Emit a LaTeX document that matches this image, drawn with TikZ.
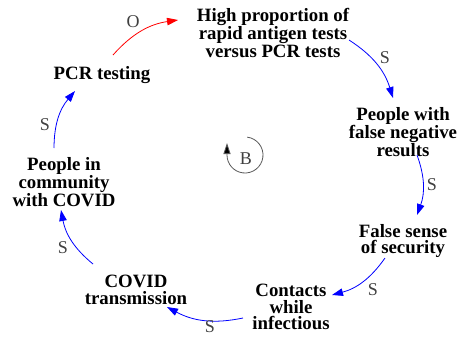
\documentclass[tikz,border=0pt]{standalone}
\usepackage{fontspec}
\setmainfont{Liberation Serif}
\usetikzlibrary{arrows.meta}
\begin{document}
\begin{tikzpicture}[x=1pt,y=-1pt,
  var/.style={font=\bfseries\fontsize{18.8}{16.5}\selectfont, align=center, inner sep=0pt, text=black},
  pol/.style={font=\fontsize{18}{18}\selectfont, text=black!75, inner sep=0pt},
  link/.style={line width=0.8pt, -{Triangle[length=11pt,width=7.5pt]}, bend left=20},
  poslink/.style={link, draw=blue},
  neglink/.style={link, draw=red},
  loopline/.style={line width=0.8pt, draw=black!65, -{Triangle[length=11pt,width=7pt,fill=black]}}
]
\useasboundingbox (0,0) rectangle (461,338);

% variables of the causal loop
\node[var] (hp)  at (273,33)  {High proportion of\\rapid antigen tests\\versus PCR tests};
\node[var] (fn)  at (403,132) {People with\\false negative\\results};
\node[var] (fs)  at (403,241) {False sense\\of security};
\node[var] (cw)  at (291,307) {Contacts\\while\\infectious};
\node[var] (ct)  at (136,290) {COVID\\transmission};
\node[var] (pc)  at (64,182)  {People in\\community\\with COVID};
\node[var] (pcr) at (102,75)  {PCR testing};

% causal links
\draw[neglink] ([shift={(11,-20)}]pcr.center) to ([shift={(-95,-13)}]hp.center);
\draw[poslink] ([shift={(76,7)}]hp.center)    to ([shift={(-10,-34)}]fn.center);
\draw[poslink] ([shift={(14,23)}]fn.center)   to ([shift={(14,-26)}]fs.center);
\draw[poslink] ([shift={(-18,17)}]fs.center)  to ([shift={(41,-12)}]cw.center);
\draw[poslink] ([shift={(-48,11)}]cw.center)  to ([shift={(31,17)}]ct.center);
\draw[poslink] ([shift={(-43,-26)}]ct.center) to ([shift={(-3,28)}]pc.center);
\draw[poslink] ([shift={(-10,-34)}]pc.center) to ([shift={(-27,16)}]pcr.center);

% link polarities
\node[pol] (o1) at (133,22)  {O};
\node[pol] (s1) at (385,58)  {S};
\node[pol] (s2) at (432,185) {S};
\node[pol] (s3) at (373,290) {S};
\node[pol] (s4) at (210,327) {S};
\node[pol] (s5) at (63,248)  {S};
\node[pol] (s6) at (45,125)  {S};

% balancing loop marker (angles measured with the y axis pointing down)
\coordinate (loopC) at (245,155);
\node[pol] (loopB) at (246,159) {B};
\draw[loopline] ([shift={(-83:18)}]loopC) arc[start angle=-83, end angle=180, radius=18] -- ++(0,-12);
\end{tikzpicture}
\end{document}
